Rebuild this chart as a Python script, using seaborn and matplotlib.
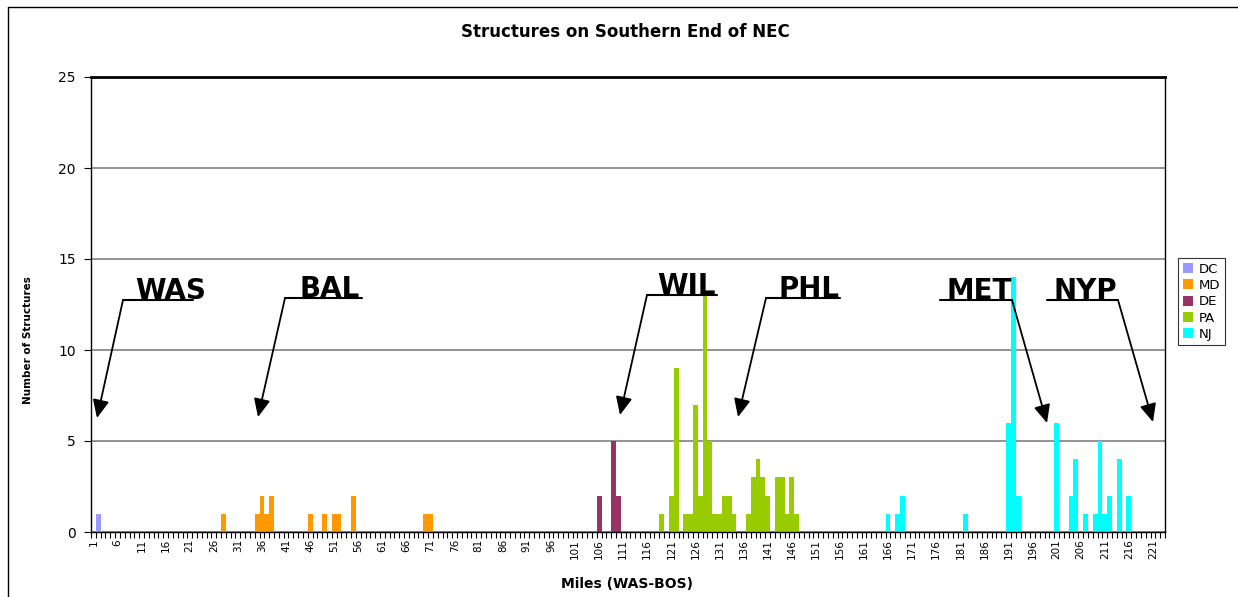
'''
Structures on the southern end of the NEC, counted per mile (WAS-BOS).
Bars coloured by state, with the station call-outs drawn on top.
'''
import numpy as np
import pandas as pd
import seaborn as sns
import matplotlib.pyplot as plt
from matplotlib.lines import Line2D

# miles 1..223 along the corridor
miles = list(range(1, 224))

# structure counts per mile, by state
dc_miles = [2]
dc_counts = [1]
md_miles = [28, 35, 36, 37, 38, 46, 49, 51, 52, 55, 70, 71]
md_counts = [1, 1, 2, 1, 2, 1, 1, 1, 1, 2, 1, 1]
de_miles = [106, 109, 110]
de_counts = [2, 5, 2]
pa_miles = [119, 121, 122, 124, 125, 126, 127, 128, 129, 130, 131, 132, 133, 134,
            137, 138, 139, 140, 141, 143, 144, 145, 146, 147]
pa_counts = [1, 2, 9, 1, 1, 7, 2, 13, 5, 1, 1, 2, 2, 1,
             1, 3, 4, 3, 2, 3, 3, 1, 3, 1]
nj_miles = [166, 168, 169, 182, 191, 192, 193, 201, 204, 205, 207, 209, 210, 211, 212, 214, 216]
nj_counts = [1, 1, 2, 1, 6, 14, 2, 6, 2, 4, 1, 1, 5, 1, 2, 4, 2]

states = ['DC', 'MD', 'DE', 'PA', 'NJ']
colors = ['#9999FF', '#FF9900', '#993366', '#99CC00', '#00FFFF']

# station call-outs: label, text centre/baseline, underline, arrow tip (image pixels)
stations = ['WAS', 'BAL', 'WIL', 'PHL', 'MET', 'NYP']
text_pos = [(171, 299), (330, 297), (686, 294), (809, 297), (979, 299), (1085, 299)]
underlines = [((123, 300), (193, 300)), ((285, 298), (362, 298)), ((647, 295), (717, 295)),
              ((766, 298), (840, 298)), ((940, 300), (1012, 300)), ((1047, 300), (1118, 300))]
arrows = [((123, 300), (97, 418)), ((285, 298), (258, 417)), ((647, 295), (620, 415)),
          ((766, 298), (738, 417)), ((1012, 300), (1047, 423)), ((1118, 300), (1153, 422))]

# build long data frame
li = []
for st, m, c in zip(states, [dc_miles, md_miles, de_miles, pa_miles, nj_miles],
                    [dc_counts, md_counts, de_counts, pa_counts, nj_counts]):
    li.append(pd.DataFrame({'mile': [str(v) for v in m], 'count': c, 'state': st}))
frame = pd.concat(li, ignore_index=True)

W, H = 1238, 597
sns.set_style('white')
plt.rcParams['font.family'] = ['DejaVu Sans']
plt.rcParams['text.color'] = 'black'
plt.rcParams['axes.labelcolor'] = 'black'
plt.rcParams['xtick.color'] = 'black'
plt.rcParams['ytick.color'] = 'black'

fig = plt.figure(figsize=(W / 100, H / 100), dpi=100)
ax = fig.add_axes([91 / W, (H - 532) / H, 1074 / W, 455 / H])

sns.barplot(data=frame, x='mile', y='count', hue='state', order=[str(m) for m in miles],
            hue_order=states, palette=dict(zip(states, colors)), dodge=False, width=1,
            saturation=1, errorbar=None, linewidth=0, ax=ax)

ax.set_xlim(-0.5, len(miles) - 0.5)
ax.set_ylim(0, 25)
ax.set_yticks(range(0, 26, 5))
ax.yaxis.grid(True, color='#808080', lw=1.2)
ax.set_axisbelow(True)
ax.tick_params(axis='y', length=5, direction='out', color='black', labelcolor='black',
               labelsize=10, pad=6, left=True)

ax.set_xticks(range(0, len(miles), 5))
ax.set_xticklabels([str(m) for m in miles[::5]], rotation=90, fontsize=7.5)
ax.set_xticks(np.arange(-0.5, len(miles), 1), minor=True)
ax.tick_params(axis='x', which='major', length=0, pad=5, bottom=True, labelcolor='black')
ax.tick_params(axis='x', which='minor', length=4, direction='out', color='black', width=0.8, bottom=True)

for side in ['left', 'right', 'bottom']:
    ax.spines[side].set_color('black')
    ax.spines[side].set_linewidth(1)
ax.spines['top'].set_color('black')
ax.spines['top'].set_linewidth(2)

ax.set_xlabel('Miles (WAS-BOS)', fontsize=10, fontweight='bold', color='black')
ax.xaxis.set_label_coords((627 - 91) / 1074, (532 - 577) / 455)
ax.set_ylabel('Number of Structures', fontsize=7.5, fontweight='bold', color='black')
ax.yaxis.set_label_coords((33 - 91) / 1074, (532 - 340) / 455)
fig.text(625 / W, 1 - 32 / H, 'Structures on Southern End of NEC', ha='center', va='center',
         fontsize=12, fontweight='bold', color='black')

# legend box on the right
handles, labels = ax.get_legend_handles_labels()
if ax.get_legend() is not None:
    ax.get_legend().remove()
leg = fig.legend(handles, labels, loc='upper left', bbox_to_anchor=(1178 / W, 1 - 258 / H),
                 frameon=True, fancybox=False, fontsize=9.5, handlelength=0.8, handleheight=0.8,
                 handletextpad=0.4, labelspacing=0.25, borderpad=0.35, borderaxespad=0,
                 labelcolor='black')
leg.get_frame().set_edgecolor('black')
leg.get_frame().set_linewidth(0.8)

# station call-outs
def fp(p):
    return (p[0], H - p[1])

for name, tp, ul, ar in zip(stations, text_pos, underlines, arrows):
    ax.annotate(name, xy=fp(tp), xycoords='figure pixels', ha='center', va='baseline',
                fontsize=20, fontweight='bold', color='black')
    ax.annotate('', xy=fp(ul[1]), xytext=fp(ul[0]), xycoords='figure pixels',
                arrowprops=dict(arrowstyle='-', color='black', lw=1.5, shrinkA=0, shrinkB=0))
    ax.annotate('', xy=fp(ar[1]), xytext=fp(ar[0]), xycoords='figure pixels',
                arrowprops=dict(arrowstyle='-|>,head_length=0.55,head_width=0.25', mutation_scale=20,
                                color='black', lw=1.3, shrinkA=0, shrinkB=0))

# outer frame (left and top edges)
fig.add_artist(Line2D([8 / W, 8 / W], [0, 1 - 7 / H], color='black', lw=1, transform=fig.transFigure))
fig.add_artist(Line2D([8 / W, 1], [1 - 7 / H, 1 - 7 / H], color='black', lw=1, transform=fig.transFigure))

fig.savefig('out.png', dpi=100)
